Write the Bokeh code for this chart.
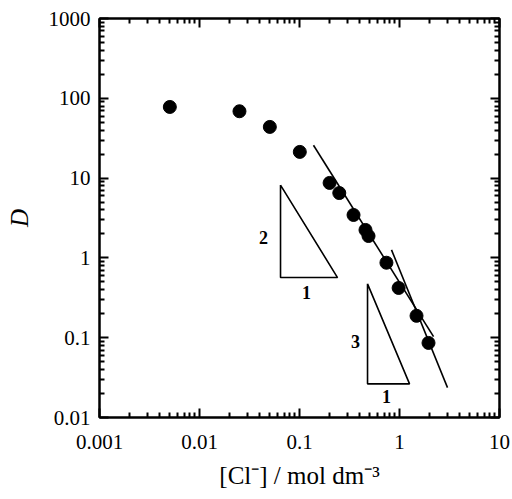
from bokeh.plotting import figure
from bokeh.models import LogAxis, FixedTicker, ColumnDataSource
from bokeh.core.properties import value
from bokeh.embed import file_html
from bokeh.resources import INLINE

# data
cl = [0.00505, 0.0251, 0.0505, 0.1007, 0.20, 0.25, 0.347, 0.457, 0.49, 0.74, 0.98, 1.48, 1.95]
D = [77.9, 68.8, 43.8, 21.3, 8.7, 6.5, 3.45, 2.24, 1.88, 0.87, 0.42, 0.188, 0.086]

fit2_x = [0.138, 2.19]
fit2_y = [25.8, 0.103]
fit3_x = [0.832, 3.02]
fit3_y = [1.26, 0.0237]

tri2_x = [0.0646, 0.0646, 0.24, 0.0646]
tri2_y = [8.18, 0.567, 0.567, 8.18]
tri3_x = [0.479, 0.479, 1.26, 0.479]
tri3_y = [0.473, 0.0264, 0.0264, 0.473]

note_x = [0.0437, 0.1175, 0.363, 0.741]
note_y = [1.78, 0.365, 0.089, 0.0183]
note_text = ["2", "1", "3", "1"]

x_ticks = [0.001, 0.01, 0.1, 1, 10]
x_tick_labels = ["0.001", "0.01", "0.1", "1", "10"]
y_ticks = [0.01, 0.1, 1, 10, 100, 1000]
y_tick_labels = ["0.01", "0.1", "1", "10", "100", "1000"]

x_minor = [k * d for d in [0.001, 0.01, 0.1, 1] for k in range(2, 10)]
y_minor = [k * d for d in [0.01, 0.1, 1, 10, 100] for k in range(2, 10)]

FONT = "Liberation Serif"

p = figure(width=512, height=499, x_axis_type="log", y_axis_type="log",
           x_range=(0.001, 10), y_range=(0.01, 1000),
           output_backend="svg", toolbar_location=None)
p.min_border_left = 99
p.min_border_right = 13
p.min_border_top = 18
p.min_border_bottom = 82
p.grid.visible = False
p.outline_line_color = "black"
p.outline_line_width = 2
p.background_fill_color = "white"
p.border_fill_color = "white"

def style(ax, ticks, minor, labels, show):
    ax.ticker = FixedTicker(ticks=ticks, minor_ticks=minor)
    ax.axis_line_width = 2
    ax.major_tick_in = 9
    ax.major_tick_out = 0
    ax.minor_tick_in = 5
    ax.minor_tick_out = 0
    ax.major_tick_line_width = 2
    ax.minor_tick_line_width = 2
    if show:
        ax.major_label_overrides = {t: l for t, l in zip(ticks, labels)}
        ax.major_label_text_font = FONT
        ax.major_label_text_font_size = "21px"
        ax.major_label_text_color = "black"
        ax.axis_label_text_font = FONT
        ax.axis_label_text_font_size = "25px"
        ax.axis_label_text_font_style = "normal"
        ax.axis_label_text_color = "black"
    else:
        ax.major_label_overrides = {t: "" for t in ticks}
        ax.major_label_text_font_size = "1px"
        ax.major_label_standoff = 0

style(p.xaxis[0], x_ticks, x_minor, x_tick_labels, True)
style(p.yaxis[0], y_ticks, y_minor, y_tick_labels, True)
p.xaxis[0].axis_label = "[Cl\u207b] / mol dm\u207b\u00b3"
p.xaxis[0].major_label_standoff = 17
p.xaxis[0].axis_label_standoff = 10
p.yaxis[0].axis_label = "D"
p.yaxis[0].axis_label_text_font_style = "italic"
p.yaxis[0].major_label_standoff = 9
p.yaxis[0].axis_label_standoff = 13

top = LogAxis()
right = LogAxis()
style(top, x_ticks, x_minor, x_tick_labels, False)
style(right, y_ticks, y_minor, y_tick_labels, False)
p.add_layout(top, "above")
p.add_layout(right, "right")

p.line(fit2_x, fit2_y, line_color="black", line_width=1.6)
p.line(fit3_x, fit3_y, line_color="black", line_width=1.6)
p.line(tri2_x, tri2_y, line_color="black", line_width=1.6)
p.line(tri3_x, tri3_y, line_color="black", line_width=1.6)

p.scatter(cl, D, size=13, fill_color="black", line_color="black")

src = ColumnDataSource(dict(x=note_x, y=note_y, t=note_text))
p.text(x="x", y="y", text="t", source=src, text_font=value(FONT),
       text_font_size="18px", text_font_style="bold",
       text_align="center", text_baseline="middle", text_color="black")

open("out.html", "w").write(file_html(p, INLINE))
